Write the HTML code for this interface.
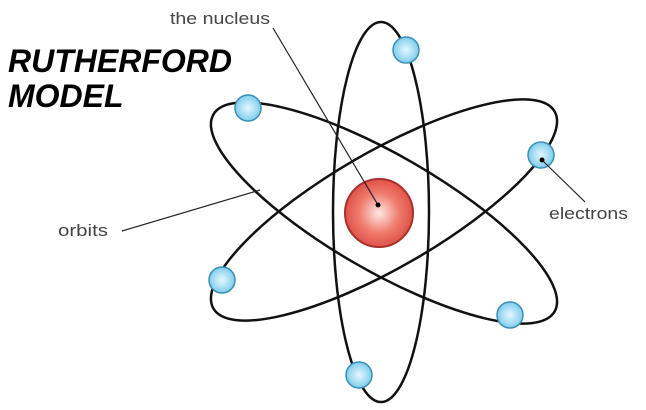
<!DOCTYPE html>
<html><head><style>
body{margin:0;width:646px;height:410px;background:#fff;overflow:hidden;position:relative}
.t{position:absolute;left:8px;top:44px;font:italic bold 32px/35px "Liberation Sans",sans-serif;color:#000}
</style></head><body>
<svg width="646" height="410" style="position:absolute;left:0;top:0">
<defs>
<radialGradient id="n" cx="50%" cy="50%" r="50%"><stop offset="0" stop-color="#fde8e4"/><stop offset="0.6" stop-color="#ef7a6c"/><stop offset="1" stop-color="#e0524a"/></radialGradient>
<radialGradient id="e" cx="50%" cy="50%" r="50%"><stop offset="0" stop-color="#e6f8ff"/><stop offset="1" stop-color="#7fcdec"/></radialGradient>
</defs>
<g fill="none" stroke="#111" stroke-width="2.5">
<ellipse cx="381" cy="212" rx="48" ry="190"/>
<ellipse cx="384" cy="213" rx="197" ry="58" transform="rotate(30 384 213)"/>
<ellipse cx="384" cy="210" rx="197" ry="58" transform="rotate(-30 384 210)"/>
</g>
<circle cx="379" cy="213" r="34" fill="url(#n)" stroke="#a8302a" stroke-width="2"/>
<g fill="url(#e)" stroke="#3a8fb5" stroke-width="1.5">
<circle cx="406" cy="50" r="13"/><circle cx="248" cy="108" r="13"/><circle cx="541" cy="155" r="13"/>
<circle cx="222" cy="280" r="13"/><circle cx="510" cy="315" r="13"/><circle cx="359" cy="375" r="13"/>
</g>
<g stroke="#222" stroke-width="1.2">
<line x1="273" y1="28" x2="378" y2="205"/>
<line x1="122" y1="231" x2="260" y2="190"/>
<line x1="542" y1="160" x2="585" y2="202"/>
</g>
<circle cx="378" cy="205" r="2.5"/><circle cx="542" cy="160" r="2.5"/>
<g font-family="Liberation Sans, sans-serif" font-size="17" fill="#444">
<text x="170" y="24" textLength="100" lengthAdjust="spacingAndGlyphs">the nucleus</text>
<text x="58" y="236" textLength="50" lengthAdjust="spacingAndGlyphs">orbits</text>
<text x="549" y="219" textLength="79" lengthAdjust="spacingAndGlyphs">electrons</text>
</g>
</svg>
<div class="t">RUTHERFORD<br>MODEL</div>
</body></html>
